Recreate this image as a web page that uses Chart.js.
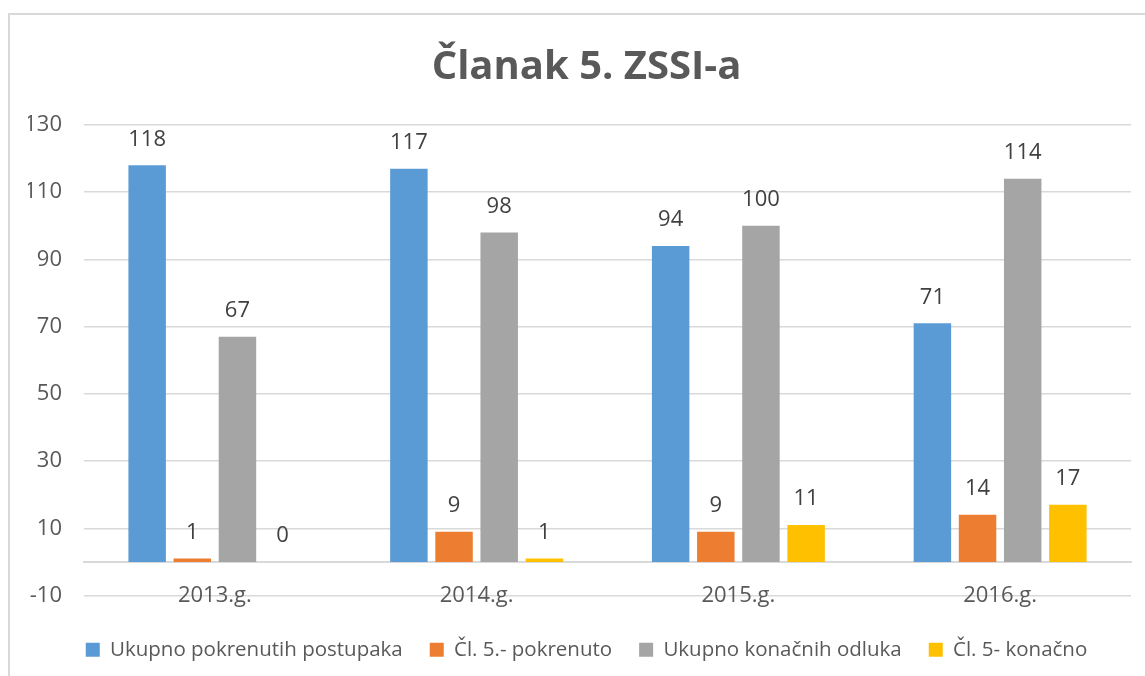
<!DOCTYPE html>
<html>
<head>
<meta charset="utf-8">
<script src="https://cdn.jsdelivr.net/npm/chart.js@4"></script>
<style>
  html, body { margin: 0; padding: 0; background: #fff; }
  #frame {
    position: absolute; left: 8px; top: 13px;
    width: 1137px; height: 663px;
    border-left: 2px solid #d9d9d9; border-top: 2px solid #d9d9d9;
  }
  #chart { display: block; }
</style>
</head>
<body>
<div id="frame"><canvas id="chart" width="1135" height="661"></canvas></div>
<script>
/* ── DATA ── */
const years    = ["2013.g.", "2014.g.", "2015.g.", "2016.g."];
const ukupnoPokrenutih = [118, 117, 94, 71];
const cl5Pokrenuto     = [1, 9, 9, 14];
const ukupnoKonacnih   = [67, 98, 100, 114];
const cl5Konacno       = [0, 1, 11, 17];
const seriesNames  = ["Ukupno pokrenutih postupaka", "Čl. 5.- pokrenuto", "Ukupno konačnih odluka", "Čl. 5- konačno"];
const seriesColors = ["#5b9bd5", "#ed7d31", "#a5a5a5", "#ffc000"];
const yTicks = [-10, 10, 30, 50, 70, 90, 110, 130];

const FONT = "'Open Sans', 'Liberation Sans', sans-serif";

/* ── VALUE LABELS over each bar ── */
const valueLabels = {
    id: "valueLabels",
    afterDatasetsDraw(chart) {
        const ctx = chart.ctx;
        ctx.save();
        ctx.font = "22px " + FONT;
        ctx.fillStyle = "#404040";
        ctx.textAlign = "center";
        ctx.textBaseline = "middle";
        chart.data.datasets.forEach((ds, i) => {
            chart.getDatasetMeta(i).data.forEach((bar, j) => {
                ctx.fillText(String(ds.data[j]), bar.x, bar.y - 26);
            });
        });
        ctx.restore();
    }
};

const allSeries = [ukupnoPokrenutih, cl5Pokrenuto, ukupnoKonacnih, cl5Konacno];

// empty axis used only to hold space in the layout
const spacer = (pos, size) => ({
    type: "linear",
    position: pos,
    grid: { display: false },
    border: { display: false },
    ticks: { display: false },
    afterFit(scale) {
        if (pos === "bottom") scale.height = size; else scale.width = size;
    }
});

new Chart(document.getElementById("chart"), {
    type: "bar",
    data: {
        labels: years,
        datasets: allSeries.map((d, i) => ({
            label: seriesNames[i],
            data: d,
            xAxisID: "x",
            yAxisID: "y",
            backgroundColor: seriesColors[i],
            categoryPercentage: 0.69,
            barPercentage: 0.83
        }))
    },
    options: {
        responsive: false,
        animation: false,
        layout: { padding: { left: 18, right: 0, top: 0, bottom: 6 } },
        plugins: {
            tooltip: { enabled: false },
            title: {
                display: true,
                text: "Članak 5. ZSSI-a",
                color: "#595959",
                font: { family: FONT, size: 40, weight: "bold" },
                padding: { top: 29, bottom: 33 }
            },
            legend: {
                position: "bottom",
                labels: {
                    color: "#595959",
                    font: { family: FONT, size: 20.5 },
                    boxWidth: 14, boxHeight: 14,
                    padding: 27
                }
            }
        },
        scales: {
            x: {
                position: { y: 0 },
                grid: { display: false },
                border: { color: "#d9d9d9", width: 2 },
                ticks: { color: "#595959", font: { family: FONT, size: 22 }, padding: 13 }
            },
            y: {
                min: -10, max: 130,
                afterBuildTicks(scale) { scale.ticks = yTicks.map(v => ({ value: v })); },
                afterFit(scale) { scale.width = 56; },
                grid: { color: "#d9d9d9", lineWidth: 1.5, drawTicks: false },
                border: { display: false },
                ticks: { color: "#595959", font: { family: FONT, size: 22 }, padding: 22 }
            },
            gapBottom: spacer("bottom", 17),
            gapRight: spacer("right", 14)
        }
    },
    plugins: [valueLabels]
});
</script>
</body>
</html>
